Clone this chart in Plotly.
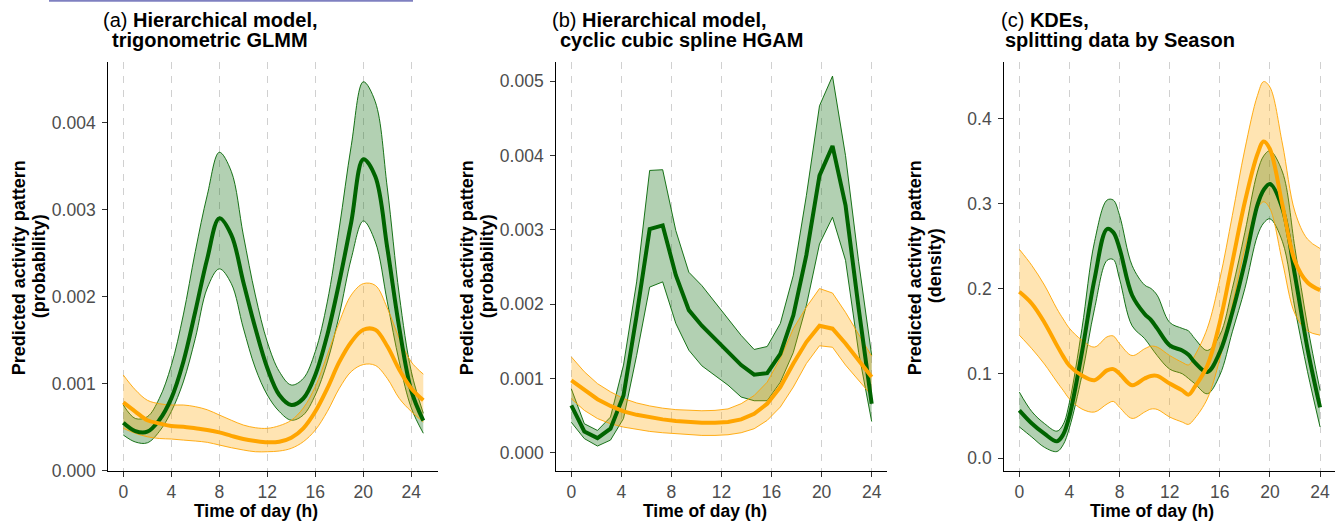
import plotly.graph_objects as go

W, H = 1340, 523
FONT = "Liberation Sans, Arial, Helvetica, sans-serif"
GREEN = "#006400"
ORANGE = "#FFA500"
GREEN_FILL = "rgba(0,100,0,0.3)"
ORANGE_FILL = "rgba(255,165,0,0.3)"

# ---------------- data ----------------
# (a) trigonometric GLMM, values in 1e-3
hours_a = list(range(26))
a_green_mean = [0.552, 0.456, 0.448, 0.582, 0.831, 1.25, 1.83, 2.44, 2.90, 2.71, 2.17, 1.64, 1.18, 0.87,
                0.755, 0.83, 1.10, 1.56, 2.17, 2.86, 3.58, 3.38, 2.56, 1.64, 0.92, 0.575]
a_green_hi = [0.755, 0.60, 0.62, 0.83, 1.21, 1.79, 2.52, 3.17, 3.66, 3.44, 2.71, 2.02, 1.48, 1.14,
              0.985, 1.06, 1.37, 1.94, 2.79, 3.74, 4.47, 4.24, 3.25, 2.02, 1.14, 0.66]
a_green_lo = [0.41, 0.33, 0.32, 0.45, 0.68, 1.02, 1.52, 2.10, 2.32, 2.15, 1.64, 1.18, 0.87, 0.68,
              0.58, 0.64, 0.87, 1.25, 1.79, 2.44, 2.87, 2.63, 1.94, 1.25, 0.72, 0.43]
a_orange_mean = [0.785, 0.68, 0.58, 0.544, 0.513, 0.506, 0.487, 0.467, 0.44, 0.40, 0.364, 0.341, 0.326,
                 0.333, 0.379, 0.487, 0.68, 0.946, 1.25, 1.48, 1.62, 1.62, 1.43, 1.16, 0.946, 0.81]
a_orange_hi = [1.10, 0.93, 0.81, 0.77, 0.755, 0.755, 0.736, 0.70, 0.64, 0.58, 0.525, 0.494, 0.487,
               0.517, 0.58, 0.72, 0.966, 1.33, 1.71, 2.02, 2.15, 2.13, 1.87, 1.52, 1.25, 1.11]
a_orange_lo = [0.487, 0.43, 0.39, 0.37, 0.364, 0.352, 0.341, 0.326, 0.295, 0.264, 0.238, 0.218, 0.218,
               0.226, 0.257, 0.333, 0.467, 0.68, 0.946, 1.14, 1.22, 1.21, 1.06, 0.83, 0.68, 0.56]

# (b) cyclic cubic spline HGAM, values in 1e-3
hours_b = [0, 1.04, 2.09, 3.13, 4.17, 5.22, 6.26, 7.30, 8.35, 9.39, 10.43, 11.48, 12.52, 13.57,
           14.61, 15.65, 16.70, 17.74, 18.78, 19.83, 20.87, 21.91, 22.96, 24]
b_green_mean = [0.637, 0.287, 0.197, 0.323, 0.77, 1.85, 3.01, 3.06, 2.39, 1.92, 1.71, 1.53, 1.35, 1.18,
                1.05, 1.07, 1.33, 1.85, 2.66, 3.73, 4.13, 3.33, 1.94, 0.66]
b_green_hi = [0.861, 0.39, 0.30, 0.48, 1.18, 2.30, 3.80, 3.81, 2.99, 2.43, 2.25, 2.03, 1.80, 1.58,
              1.39, 1.43, 1.74, 2.39, 3.46, 4.67, 5.07, 4.00, 2.57, 1.31]
b_green_lo = [0.41, 0.19, 0.09, 0.17, 0.46, 1.31, 2.23, 2.30, 1.74, 1.38, 1.17, 1.04, 0.91, 0.75,
              0.70, 0.70, 0.95, 1.35, 1.98, 2.81, 3.17, 2.59, 1.35, 0.42]
b_orange_mean = [0.974, 0.84, 0.72, 0.63, 0.556, 0.51, 0.476, 0.449, 0.426, 0.413, 0.404, 0.404, 0.413,
                 0.449, 0.525, 0.66, 0.884, 1.20, 1.49, 1.71, 1.67, 1.47, 1.24, 1.02]
b_orange_hi = [1.29, 1.09, 0.93, 0.82, 0.73, 0.67, 0.63, 0.60, 0.58, 0.57, 0.565, 0.57, 0.59, 0.66,
               0.77, 0.95, 1.27, 1.67, 1.96, 2.21, 2.15, 1.89, 1.60, 1.30]
b_orange_lo = [0.727, 0.57, 0.46, 0.39, 0.345, 0.314, 0.287, 0.269, 0.256, 0.242, 0.233, 0.233, 0.242,
               0.269, 0.323, 0.435, 0.615, 0.884, 1.20, 1.44, 1.42, 1.18, 0.97, 0.77]

# (c) KDEs by season (density)
hours_c = [0, 1, 2, 3, 3.5, 4, 5, 6, 7, 7.5, 8, 9, 10, 10.5, 11, 12, 13, 13.5, 14, 15, 16, 17, 18,
           19, 19.5, 20, 21, 22, 23, 24]
c_green_mean = [0.0565, 0.041, 0.029, 0.020, 0.028, 0.050, 0.125, 0.211, 0.270, 0.266, 0.247, 0.192,
                0.170, 0.163, 0.153, 0.133, 0.127, 0.122, 0.113, 0.1016, 0.125, 0.172, 0.231, 0.298,
                0.316, 0.323, 0.294, 0.215, 0.129, 0.060]
c_green_hi = [0.078, 0.055, 0.041, 0.032, 0.040, 0.066, 0.153, 0.255, 0.304, 0.304, 0.286, 0.227,
              0.204, 0.200, 0.192, 0.160, 0.153, 0.150, 0.141, 0.127, 0.145, 0.200, 0.266, 0.337,
              0.356, 0.362, 0.337, 0.247, 0.156, 0.080]
c_green_lo = [0.037, 0.025, 0.013, 0.008, 0.016, 0.036, 0.098, 0.176, 0.233, 0.234, 0.211, 0.156,
              0.141, 0.131, 0.121, 0.105, 0.0996, 0.094, 0.088, 0.076, 0.098, 0.149, 0.200, 0.262,
              0.277, 0.282, 0.255, 0.176, 0.102, 0.037]
c_orange_mean = [0.196, 0.182, 0.160, 0.133, 0.120, 0.109, 0.0976, 0.092, 0.1035, 0.105, 0.0996,
                 0.086, 0.094, 0.097, 0.097, 0.088, 0.080, 0.075, 0.084, 0.109, 0.160, 0.231, 0.302,
                 0.358, 0.373, 0.364, 0.298, 0.232, 0.207, 0.198]
c_orange_hi = [0.246, 0.227, 0.204, 0.176, 0.164, 0.153, 0.139, 0.131, 0.143, 0.144, 0.135, 0.121,
               0.129, 0.132, 0.131, 0.121, 0.113, 0.110, 0.121, 0.153, 0.211, 0.286, 0.364, 0.427,
               0.4435, 0.437, 0.37, 0.29, 0.258, 0.247]
c_orange_lo = [0.145, 0.129, 0.111, 0.090, 0.080, 0.070, 0.058, 0.0545, 0.064, 0.067, 0.060, 0.047,
               0.0545, 0.058, 0.0576, 0.0486, 0.0427, 0.040, 0.047, 0.070, 0.117, 0.180, 0.247,
               0.294, 0.302, 0.294, 0.231, 0.170, 0.150, 0.145]

x_ticks = [0, 4, 8, 12, 16, 20, 24]
y_ticks_a = [0.000, 0.001, 0.002, 0.003, 0.004]
y_ticks_b = [0.000, 0.001, 0.002, 0.003, 0.004, 0.005]
y_ticks_c = [0.0, 0.1, 0.2, 0.3, 0.4]

titles_line1 = ["(a) <b>Hierarchical model,</b>", "(b) <b>Hierarchical model,</b>", "(c) <b>KDEs,</b>"]
titles_line2 = ["<b>trigonometric GLMM</b>", "<b>cyclic cubic spline HGAM</b>", "<b>splitting data by Season</b>"]
ytitles_line2 = ["<b>(probability)</b>", "<b>(probability)</b>", "<b>(density)</b>"]
xtitle = "<b>Time of day (h)</b>"
ytitle_line1 = "<b>Predicted activity pattern</b>"


def scale(vals, f):
    return [v * f for v in vals]


fig = go.Figure()


def add_panel(n, x, g_mean, g_lo, g_hi, o_mean, o_lo, o_hi, shape):
    xa = "x" if n == 1 else f"x{n}"
    ya = "y" if n == 1 else f"y{n}"
    common = dict(xaxis=xa, yaxis=ya, showlegend=False, hoverinfo="skip", mode="lines")
    for lo, hi, col, fc in [(g_lo, g_hi, GREEN, GREEN_FILL), (o_lo, o_hi, ORANGE, ORANGE_FILL)]:
        fig.add_trace(go.Scatter(x=x, y=lo, line=dict(color=col, width=0.9, shape=shape), **common))
        fig.add_trace(go.Scatter(x=x, y=hi, line=dict(color=col, width=0.9, shape=shape),
                                 fill="tonexty", fillcolor=fc, **common))
    fig.add_trace(go.Scatter(x=x, y=g_mean, line=dict(color=GREEN, width=4, shape=shape), **common))
    fig.add_trace(go.Scatter(x=x, y=o_mean, line=dict(color=ORANGE, width=4, shape=shape), **common))


add_panel(1, hours_a, scale(a_green_mean, 1e-3), scale(a_green_lo, 1e-3), scale(a_green_hi, 1e-3),
          scale(a_orange_mean, 1e-3), scale(a_orange_lo, 1e-3), scale(a_orange_hi, 1e-3), "spline")
add_panel(2, hours_b, scale(b_green_mean, 1e-3), scale(b_green_lo, 1e-3), scale(b_green_hi, 1e-3),
          scale(b_orange_mean, 1e-3), scale(b_orange_lo, 1e-3), scale(b_orange_hi, 1e-3), "linear")
add_panel(3, hours_c, c_green_mean, c_green_lo, c_green_hi,
          c_orange_mean, c_orange_lo, c_orange_hi, "spline")

# ---------------- layout ----------------
PT, PB = 62.3, 471.0
ydom = [1 - PB / H, 1 - PT / H]
panels = [
    # axis px left, right, xrange, yrange, yticks, fmt
    (108.3, 438.3, [-1.25, 26.25], [-0.0000035, 0.004694], y_ticks_a, "{:.3f}"),
    (556.3, 886.7, [-1.2, 25.2], [-0.000246, 0.005256], y_ticks_b, "{:.3f}"),
    (1004.3, 1335.1, [-1.2, 25.2], [-0.0149, 0.4662], y_ticks_c, "{:.1f}"),
]

axis_common = dict(showline=True, linecolor="black", linewidth=1.3, ticks="outside", ticklen=5,
                   tickwidth=1.2, tickcolor="#333333", zeroline=False, fixedrange=True,
                   automargin=False, tickfont=dict(family=FONT, size=17.5, color="#4d4d4d"))
layout = dict(width=W, height=H, autosize=False,
              margin=dict(l=0, r=0, t=0, b=0, pad=0, autoexpand=False),
              paper_bgcolor="white", plot_bgcolor="white", font=dict(family=FONT, color="black"),
              showlegend=False)
annotations = []
for i, (l, r, xr, yr, yt, fmt) in enumerate(panels):
    n = i + 1
    xk = "xaxis" if n == 1 else f"xaxis{n}"
    yk = "yaxis" if n == 1 else f"yaxis{n}"
    layout[xk] = dict(domain=[l / W, r / W], range=xr, anchor="y" if n == 1 else f"y{n}",
                      tickmode="array", tickvals=x_ticks, ticktext=[str(t) for t in x_ticks],
                      showgrid=True, gridcolor="#d0d0d0", gridwidth=1.4, griddash="7px,7px",
                      **axis_common)
    layout[yk] = dict(domain=ydom, range=yr, anchor="x" if n == 1 else f"x{n}",
                      tickmode="array", tickvals=yt, ticktext=[fmt.format(t) for t in yt],
                      showgrid=False, ticklabelstandoff=3, **axis_common)

title_pos = [(100.7, 110.0), (549.7, 558.0), (999.0, 1003.0)]
xtitle_cx = [256.0, 704.7, 1152.0]
for i in range(3):
    x1, x2 = title_pos[i]
    annotations.append(dict(text=titles_line1[i], xref="paper", yref="paper", x=x1 / W, y=1 - 19.5 / H,
                            xanchor="left", yanchor="middle", showarrow=False,
                            font=dict(family=FONT, size=20, color="black")))
    annotations.append(dict(text=titles_line2[i], xref="paper", yref="paper", x=x2 / W, y=1 - 40.5 / H,
                            xanchor="left", yanchor="middle", showarrow=False,
                            font=dict(family=FONT, size=20, color="black")))
    annotations.append(dict(text=xtitle, xref="paper", yref="paper", x=xtitle_cx[i] / W, y=1 - 511 / H,
                            xanchor="center", yanchor="middle", showarrow=False,
                            font=dict(family=FONT, size=17.5, color="black")))
    axpx = panels[i][0]
    annotations.append(dict(text=ytitle_line1, xref="paper", yref="paper", x=(axpx - 89.0) / W,
                            y=1 - 268 / H, xanchor="center", yanchor="middle", textangle=-90,
                            showarrow=False, font=dict(family=FONT, size=18, color="black")))
    annotations.append(dict(text=ytitles_line2[i], xref="paper", yref="paper", x=(axpx - 69.0) / W,
                            y=1 - 266 / H, xanchor="center", yanchor="middle", textangle=-90,
                            showarrow=False, font=dict(family=FONT, size=18, color="black")))
layout["annotations"] = annotations
layout["shapes"] = [dict(type="rect", xref="paper", yref="paper", x0=49 / W, x1=413 / W,
                         y0=1 - 1.8 / H, y1=1.0, fillcolor="#7f80c0", line=dict(width=0))]

fig.update_layout(**layout)
fig.write_html("out.html", config={"displayModeBar": False, "responsive": False},
               post_script="document.body.style.margin='0';document.body.style.overflow='hidden';")
